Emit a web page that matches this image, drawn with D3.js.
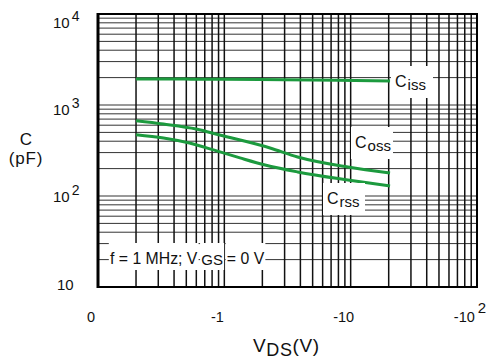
<!DOCTYPE html>
<html>
<head>
<meta charset="utf-8">
<script src="https://cdn.jsdelivr.net/npm/d3@7"></script>
<style>
  body { margin: 0; background: #fff; }
  text { font-family: "Liberation Sans", Arial, sans-serif; fill: #111; }
</style>
</head>
<body>
<div id="plot"></div>
<script>
// capacitance vs drain-source voltage (magnitude of VDS, log axes)
const cissV = [0.2, 0.5, 1, 3, 8, 20.5];
const cissC = [1930, 1925, 1915, 1895, 1870, 1840];
const cossV = [0.2, 0.33, 0.6, 0.92, 2.3, 3.8, 9.5, 20.5];
const cossC = [672, 618, 545, 468, 337, 268, 208, 179];
const crssV = [0.2, 0.33, 0.53, 0.87, 1.33, 2.1, 3.8, 9.5, 20.5];
const crssC = [472, 434, 382, 313, 262, 219, 184, 150, 129];

const xTicks = [0.1, 1, 10, 100];
const xTickText = ["0", "-1", "-10", "-10"];
const xTickSup = ["", "", "", "2"];
const yTicks = [10, 100, 1000, 10000];
const yTickSup = ["", "2", "3", "4"];

const W = 491, H = 362;
const m = {left: 98, right: 477, top: 14, bottom: 287};

const svg = d3.select("div#plot")
  .append("svg")
  .attr("width", W)
  .attr("height", H);

const x = d3.scaleLog().domain([0.1, 100]).range([m.left, m.right]);
const y = d3.scaleLog().domain([10, 10000]).range([m.bottom, m.top]);
// label baselines sit a little off the gridlines in the original
const yLab = d3.scaleLog().domain([10, 10000]).range([289.5, 27.5]);

// minor + major log grid
const gridX = [];
[0.1, 1, 10].forEach(d => { for (let k = 1; k <= 9; k++) gridX.push(d * k); });
gridX.push(100);
const gridY = [];
[10, 100, 1000].forEach(d => { for (let k = 1; k <= 9; k++) gridY.push(d * k); });
gridY.push(10000);

svg.append("g").selectAll("line")
  .data(gridY)
  .join("line")
  .attr("x1", m.left).attr("x2", m.right)
  .attr("y1", d => y(d)).attr("y2", d => y(d))
  .attr("stroke", "#333")
  .attr("stroke-width", 1);

svg.append("g").selectAll("line")
  .data(gridX)
  .join("line")
  .attr("x1", d => x(d)).attr("x2", d => x(d))
  .attr("y1", m.top).attr("y2", m.bottom)
  .attr("stroke", "#111")
  .attr("stroke-width", 1.5);

// frame
svg.append("rect")
  .attr("x", m.left).attr("y", m.top)
  .attr("width", m.right - m.left).attr("height", m.bottom - m.top)
  .attr("fill", "none")
  .attr("stroke", "#000")
  .attr("stroke-width", 2);
svg.append("line")
  .attr("x1", m.left).attr("x2", m.left).attr("y1", m.top - 1).attr("y2", m.bottom + 1)
  .attr("stroke", "#000").attr("stroke-width", 3);

// white boxes behind the annotation text
function boxedText(g, parts, x0, base, gap, boxTop, boxH) {
  let cx = x0;
  parts.forEach(p => {
    const t = g.append("text")
      .attr("x", cx).attr("y", base + (p.dy || 0))
      .style("font-size", p.size + "px")
      .text(p.t);
    const w = t.node().getComputedTextLength();
    g.insert("rect", "text")
      .attr("x", cx - gap).attr("y", boxTop)
      .attr("width", w + 2 * gap).attr("height", boxH)
      .attr("fill", "#fff");
    cx += w + 2 * gap + 1.5;
  });
}

const ann = svg.append("g");
boxedText(ann, [
  {t: "f = 1 MHz; V", size: 15.8},
  {t: "GS", size: 15, dy: 1},
  {t: "= 0 V", size: 15.8}
], 110, 264, 1.2, 243, 27);

// curves
const line = d3.line()
  .x(d => x(d[0]))
  .y(d => y(d[1]))
  .curve(d3.curveMonotoneX);

const series = [
  {v: cissV, c: cissC},
  {v: cossV, c: cossC},
  {v: crssV, c: crssC}
];
svg.append("g").selectAll("path")
  .data(series)
  .join("path")
  .attr("d", s => line(s.v.map((d, i) => [d, s.c[i]])))
  .attr("fill", "none")
  .attr("stroke", "#1c9a3e")
  .attr("stroke-width", 3);

// curve labels
const curveLabels = [
  {main: "C", sub: "iss", x: 395, y: 87},
  {main: "C", sub: "oss", x: 355, y: 148},
  {main: "C", sub: "rss", x: 327, y: 204}
];
curveLabels.forEach(l => {
  svg.append("rect")
    .attr("x", l.x - 4).attr("y", l.y - 21)
    .attr("width", 42).attr("height", 32)
    .attr("fill", "#fff");
  const t = svg.append("text")
    .attr("x", l.x).attr("y", l.y)
    .style("font-size", "16px");
  t.append("tspan").text(l.main);
  t.append("tspan")
    .attr("dx", 1).attr("dy", 3)
    .style("font-size", "15px")
    .text(l.sub);
});

// y tick labels
yTicks.forEach((d, i) => {
  const t = svg.append("text")
    .attr("x", yTickSup[i] ? 53 : 57)
    .attr("y", yLab(d))
    .style("font-size", "15px");
  t.append("tspan").text("10");
  if (yTickSup[i]) {
    t.append("tspan")
      .attr("dx", 2).attr("dy", -7)
      .style("font-size", "14px")
      .text(yTickSup[i]);
  }
});

// x tick labels
xTicks.forEach((d, i) => {
  const t = svg.append("text")
    .attr("x", x(d) - 7)
    .attr("y", 322)
    .attr("text-anchor", "middle")
    .style("font-size", "14.5px");
  t.append("tspan").text(xTickText[i]);
  if (xTickSup[i]) {
    t.append("tspan")
      .attr("dx", 3).attr("dy", -9)
      .style("font-size", "15px")
      .text(xTickSup[i]);
  }
});

// axis titles
svg.append("text")
  .attr("x", 26).attr("y", 145)
  .attr("text-anchor", "middle")
  .style("font-size", "17px")
  .text("C");
svg.append("text")
  .attr("x", 26).attr("y", 164)
  .attr("text-anchor", "middle")
  .style("font-size", "17px")
  .style("letter-spacing", "0.8px")
  .text("(pF)");

const xt = svg.append("text")
  .attr("x", 253).attr("y", 352)
  .style("font-size", "19px")
  .style("letter-spacing", "0.6px");
xt.append("tspan").text("V");
xt.append("tspan").attr("dy", 4).style("font-size", "18px").text("DS");
xt.append("tspan").attr("dy", -4).text("(V)");
</script>
</body>
</html>
